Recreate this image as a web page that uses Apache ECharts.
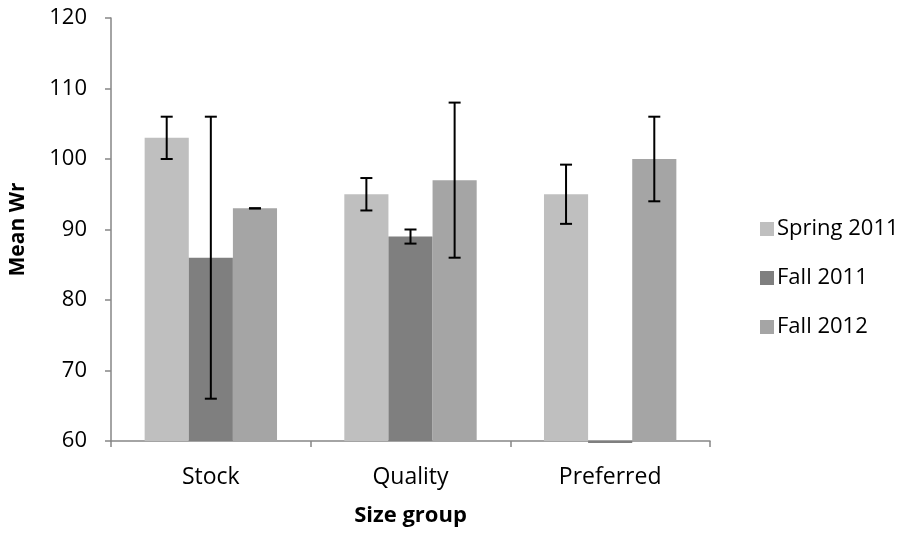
<!DOCTYPE html>
<html><head><meta charset="utf-8">
<script src="https://cdn.jsdelivr.net/npm/echarts@6/dist/echarts.min.js"></script>
<style>html,body{margin:0;padding:0;background:#fff}#c{width:906px;height:533px}</style>
</head><body><div id="c"></div>
<script>
const categories = ['Stock', 'Quality', 'Preferred'];
const seriesNames = ['Spring 2011', 'Fall 2011', 'Fall 2012'];
const spring2011 = [103, 95, 95];
const fall2011 = [86, 89, 0];
const fall2012 = [93, 97, 100];
const spring2011Err = [3, 2.3, 4.2];
const fall2011Err = [20, 1, 0];
const fall2012Err = [0, 11, 6];
const yTicks = [60, 70, 80, 90, 100, 110, 120];

const colors = ['#BFBFBF', '#7F7F7F', '#A5A5A5'];
const values = [spring2011, fall2011, fall2012];
const errs = [spring2011Err, fall2011Err, fall2012Err];
const Y_MIN = yTicks[0], Y_MAX = yTicks[yTicks.length - 1];
const FONT = '"Open Sans", sans-serif';
const GAP = 0.337;

const chart = echarts.init(document.getElementById('c'), null, {renderer: 'canvas'});

const barSeries = seriesNames.map((n, i) => ({
  name: n, type: 'bar', data: values[i], barGap: '0%', barCategoryGap: (GAP * 100) + '%',
  itemStyle: {color: colors[i]}, emphasis: {disabled: true}
}));

const errSeries = seriesNames.map((n, i) => ({
  name: n + ' err', type: 'custom', z: 10, silent: true,
  data: categories.map((c, k) => [k, values[i][k], errs[i][k]]),
  renderItem: function (params, api) {
    const k = api.value(0), v = api.value(1), e = api.value(2);
    const band = api.size([1, 0])[0];
    const bw = band * (1 - GAP) / 3;
    const base = api.coord([k, Y_MIN]);
    const cx = base[0] + (i - 1) * bw;
    if (v <= Y_MIN) {
      return {type: 'rect', shape: {x: cx - bw / 2, y: base[1], width: bw, height: 2},
        style: {fill: colors[i]}};
    }
    const top = api.coord([k, v + e])[1];
    const bot = api.coord([k, v - e])[1];
    const cw = 6;
    return {type: 'group', children: [
      {type: 'line', shape: {x1: cx, y1: top, x2: cx, y2: bot}, style: {stroke: '#000', lineWidth: 2}},
      {type: 'line', shape: {x1: cx - cw, y1: top, x2: cx + cw, y2: top}, style: {stroke: '#000', lineWidth: 2}},
      {type: 'line', shape: {x1: cx - cw, y1: bot, x2: cx + cw, y2: bot}, style: {stroke: '#000', lineWidth: 2}}
    ]};
  }
}));

chart.setOption({
  animation: false,
  backgroundColor: '#fff',
  grid: {left: 108, top: 18, right: 196, bottom: 92, containLabel: false},
  legend: {
    orient: 'vertical', left: 755, top: 213, itemWidth: 14, itemHeight: 14, itemGap: 27,
    data: seriesNames, icon: 'rect',
    textStyle: {fontFamily: FONT, fontSize: 22, color: '#000', padding: [0, 0, 0, -2]}
  },
  xAxis: {
    type: 'category', data: categories,
    name: 'Size group', nameLocation: 'middle', nameGap: 64, nameMoveOverlap: false,
    nameTextStyle: {fontFamily: FONT, fontSize: 22, fontWeight: 'bold', color: '#000'},
    axisLine: {lineStyle: {color: '#868686', width: 1.5}},
    axisTick: {show: true, length: 6, lineStyle: {color: '#868686', width: 1.5}},
    axisLabel: {fontFamily: FONT, fontSize: 23, color: '#000', margin: 25}
  },
  yAxis: {
    type: 'value', min: Y_MIN, max: Y_MAX, interval: 10,
    name: 'Mean Wr', nameLocation: 'middle', nameGap: 82, nameRotate: 90, nameMoveOverlap: false,
    nameTextStyle: {fontFamily: FONT, fontSize: 21, fontWeight: 'bold', color: '#000'},
    axisLine: {show: true, lineStyle: {color: '#868686', width: 1.5}},
    axisTick: {show: true, length: 6, lineStyle: {color: '#868686', width: 1.5}},
    splitLine: {show: false},
    axisLabel: {fontFamily: FONT, fontSize: 22, color: '#000', margin: 24}
  },
  series: barSeries.concat(errSeries)
});
</script>
</body></html>
